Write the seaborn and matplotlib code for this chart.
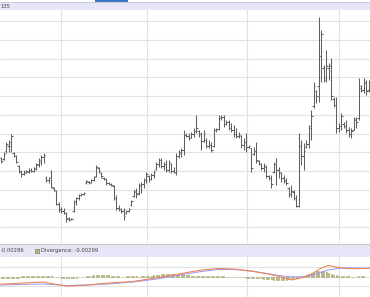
import numpy as np
import pandas as pd
import matplotlib
matplotlib.use("Agg")
import matplotlib.pyplot as plt
import seaborn as sns
from matplotlib.patches import Rectangle

sns.set_theme(style="white")
plt.rcParams['font.family'] = ['DejaVu Sans']

# ---- price bars (OHLC) ----
opens = [88, 87, 95, 100, 100, 93, 90, 80, 74, 72, 74, 74, 76, 75, 77, 81, 84, 89, 68, 66,
         74, 58, 55, 42, 37, 35, 33, 28, 27, 35, 44, 48, 51, 52, 63, 64, 64, 66, 70, 78,
         73, 68, 67, 63, 62, 60, 48, 38, 37, 35, 33, 35, 41, 50, 54, 53, 60, 62, 66, 70,
         67, 71, 77, 82, 86, 80, 82, 76, 82, 75, 73, 90, 93, 96, 111, 110, 108, 112, 115, 115,
         112, 105, 106, 100, 101, 100, 116, 117, 128, 129, 122, 124, 118, 116, 112, 110, 110, 101, 104, 99,
         98, 92, 95, 85, 82, 78, 79, 70, 68, 74, 82, 76, 73, 68, 65, 58, 52, 54, 48, 40,
         100, 90, 99, 102, 118, 140, 155, 160, 190, 178, 168, 178, 180, 147, 141, 118, 120, 122, 120, 116,
         112, 116, 126, 128, 158, 156, 163, 156]
highs = [89, 94, 104, 106, 112, 94, 91, 81, 76, 76, 76, 78, 78, 79, 83, 88, 91, 93, 70, 69,
         76, 59, 56, 44, 39, 38, 34, 29, 28, 46, 49, 52, 53, 54, 66, 65, 67, 70, 81, 79,
         74, 69, 68, 64, 63, 61, 51, 41, 38, 38, 36, 38, 46, 56, 58, 63, 64, 68, 74, 71,
         73, 76, 84, 88, 88, 84, 86, 86, 83, 79, 93, 96, 98, 116, 113, 113, 114, 118, 131, 116,
         114, 116, 108, 106, 104, 118, 118, 131, 131, 131, 126, 126, 123, 121, 118, 114, 111, 108, 113, 101,
         98, 99, 104, 86, 83, 83, 81, 71, 71, 84, 88, 79, 74, 71, 68, 59, 61, 56, 51, 113,
         106, 103, 106, 121, 136, 164, 156, 229, 216, 181, 196, 183, 188, 149, 149, 123, 133, 124, 126, 119,
         118, 129, 129, 168, 161, 168, 166, 166]
lows = [83, 86, 93, 94, 94, 89, 83, 73, 69, 71, 73, 73, 74, 74, 76, 79, 81, 83, 64, 63,
        58, 55, 41, 34, 33, 32, 24, 25, 26, 34, 41, 46, 50, 51, 62, 62, 63, 65, 69, 73,
        68, 66, 61, 61, 60, 46, 36, 35, 33, 26, 32, 34, 40, 49, 48, 51, 53, 58, 63, 64,
        66, 68, 76, 79, 78, 76, 74, 74, 73, 73, 71, 88, 89, 91, 109, 106, 108, 109, 113, 109,
        96, 104, 98, 98, 94, 99, 114, 116, 126, 119, 121, 116, 114, 109, 108, 108, 98, 96, 94, 98,
        74, 91, 83, 81, 76, 74, 68, 66, 58, 73, 61, 68, 64, 63, 61, 49, 49, 46, 39, 39,
        81, 76, 98, 98, 106, 138, 143, 144, 164, 164, 164, 166, 146, 139, 113, 114, 116, 118, 113, 109,
        108, 116, 118, 126, 154, 153, 151, 154]
closes = [85, 92, 102, 104, 110, 90, 84, 75, 72, 73, 75, 76, 75, 78, 82, 86, 89, 91, 66, 68,
          59, 56, 42, 36, 35, 33, 27, 26, 27, 45, 48, 51, 52, 53, 65, 63, 66, 69, 79, 75,
          70, 67, 63, 62, 61, 48, 38, 37, 35, 30, 35, 37, 45, 55, 52, 61, 62, 66, 72, 67,
          71, 74, 82, 86, 80, 82, 76, 84, 75, 74, 90, 94, 96, 111, 110, 108, 112, 115, 118, 112,
          105, 113, 100, 101, 96, 116, 117, 128, 129, 122, 124, 118, 116, 112, 110, 111, 101, 104, 99, 100,
          78, 95, 86, 83, 78, 80, 70, 68, 62, 82, 76, 74, 68, 66, 63, 52, 55, 48, 40, 100,
          90, 95, 102, 120, 130, 160, 150, 190, 212, 166, 180, 180, 150, 141, 118, 120, 130, 120, 116, 112,
          115, 127, 124, 160, 156, 164, 155, 160]

# ---- MACD panel ----
macd_x = [0, 20, 43, 67, 87, 110, 133, 157, 185, 200, 218, 235, 252, 268, 280, 292,
          302, 312, 320, 328, 342, 356, 370]
macd = [-7.5, -6.5, -5.3, -9.5, -8.3, -6.2, -4.8, -1.0, 3.8, 6.5, 8.2, 7.6, 5.5, 2.8, 0.0, -3.3,
        -1.0, 2.8, 8.0, 11.2, 8.6, 8.0, 8.4]
signal = [-8.3, -7.8, -7.3, -8.8, -8.3, -7.2, -5.3, -2.3, 2.6, 5.0, 7.2, 7.2, 5.5, 3.0, 1.0, -0.2,
          0.0, 1.5, 4.0, 6.7, 8.8, 8.6, 8.4]
hist = [-1.0, -1.0, -1.0, -1.2, -1.2, -1.0, -1.0, -0.8, 0.4, 0.5, 0.5, 0.6, 0.5, 0.5, 0.4, 0.5,
        0.6, 0.6, 0.5, 0.4, 0.3, 0.2, 0.0, -0.3, -0.8, -1.2, -1.5, -1.5, -1.3, -1.0, -0.8, -0.4,
        -0.2, 0.0, 0.3, 0.8, 1.2, 1.6, 1.8, 2.0, 2.0, 1.8, 1.6, 1.4, 1.1, 0.8, 0.5, 0.3, 0.2, 0.2,
        0.3, 0.3, 0.3, 0.3, 0.3, 0.2, 0.3, 0.4, 0.4, 0.5, 0.8, 1.3, 1.8, 2.2, 2.5, 2.8, 3.0, 3.0,
        3.2, 3.2, 3.0, 2.8, 2.6, 2.4, 2.0, 1.6, 1.2, 1.0, 0.8, 0.6, 0.5, 0.5, 0.4, 0.4, 0.4, 0.5,
        0.5, 0.4, 0.4, 0.3, 0.2, 0.2, 0.1, 0.0, -0.2, -0.4, -0.6, -0.7, -0.8, -0.8, -0.9, -1.0,
        -1.0, -1.2, -1.5, -1.8, -2.0, -2.2, -2.5, -2.8, -3.0, -3.0, -3.2, -3.0, -2.8, -2.5, -2.0,
        -1.5, -1.0, -0.5, 0.2, 1.0, 2.0, 3.0, 4.0, 5.0, 5.8, 6.2, 6.0, 5.5, 4.8, 4.0, 3.0, 2.2,
        1.5, 1.0, 0.6, 0.4, 0.3, 0.3, 0.2, 0.2, 0.2, 0.3, 0.3, 0.3]

header_label = "135"
macd_label = "-0.00286"
div_label = "Divergence: -0.00299"

month_lines = [23.9, 58.3, 98.3, 135.1]

df = pd.DataFrame({"o": opens, "h": highs, "l": lows, "c": closes})
df["i"] = np.arange(len(df))
mdf = pd.DataFrame({"x": macd_x, "macd": macd, "signal": signal})
hdf = pd.DataFrame({"i": np.arange(len(hist)), "hist": hist})

W, H = 370, 297
fig = plt.figure(figsize=(W / 100, H / 100), dpi=100)
fig.patch.set_facecolor("white")

def fy(ypx):
    return 1 - ypx / H

grid_c = "#e2e2e2"
bar_c = "#606060"
lav = "#e6e6f8"

# main panel
ax = fig.add_axes([0, fy(243), 1, fy(9) - fy(243)])
ax.set_xlim(-0.5, 147.5)
ax.set_ylim(3, 237)
for v in month_lines:
    ax.axvline(v, color=grid_c, lw=0.8, zorder=0)
for g in np.arange(18.73, 230, 18.73):
    ax.axhline(g, color=grid_c, lw=0.8, zorder=0)
ax.vlines(df["i"], df["l"], df["h"], color=bar_c, lw=0.75)
ax.hlines(df["o"], df["i"] - 0.55, df["i"], color=bar_c, lw=0.75)
ax.hlines(df["c"], df["i"], df["i"] + 0.55, color=bar_c, lw=0.75)
ax.set_xticks([]); ax.set_yticks([])
for s in ax.spines.values():
    s.set_visible(False)

# macd panel
ax2 = fig.add_axes([0, 0, 1, fy(257)])
ax2.set_xlim(0, 370)
ax2.set_ylim(-20.3, 19.7)
for v in month_lines:
    ax2.axvline(1.25 + 2.5 * v, color=grid_c, lw=0.8, zorder=0)
for g in [-9.3, 0, 10]:
    ax2.axhline(g, color=grid_c, lw=0.8, zorder=0)
hx = 1.25 + 2.5 * hdf["i"]
ax2.bar(hx, hdf["hist"], width=1.2, bottom=0, color="#b9b985", edgecolor="#a8a870", lw=0.5, zorder=1)
sns.lineplot(data=mdf, x="x", y="signal", ax=ax2, color="#9c9cf0", lw=0.75, zorder=2)
sns.lineplot(data=mdf, x="x", y="macd", ax=ax2, color="#f08050", lw=0.75, zorder=3)
ax2.set_xticks([]); ax2.set_yticks([])
ax2.set_xlabel(""); ax2.set_ylabel("")
for s in ax2.spines.values():
    s.set_visible(False)

# headers / decorations
fig.add_artist(Rectangle((0, fy(9.5)), 1, fy(2.5) - fy(9.5), transform=fig.transFigure,
                         facecolor=lav, edgecolor="none"))
fig.add_artist(plt.Line2D([0, 1], [fy(2.2), fy(2.2)], transform=fig.transFigure, color="#c8c8d0", lw=0.6))
fig.add_artist(Rectangle((95 / W, fy(1.8)), 33 / W, 1.8 / H, transform=fig.transFigure,
                         facecolor="#3b78c2", edgecolor="none"))
fig.text(0.5 / W, fy(6), header_label, fontsize=3.8, color="#444444", va="center", ha="left")

fig.add_artist(plt.Line2D([0, 1], [fy(244.3), fy(244.3)], transform=fig.transFigure, color="#c8c8c8", lw=0.8))
fig.add_artist(Rectangle((0, fy(256.5)), 1, fy(245) - fy(256.5), transform=fig.transFigure,
                         facecolor=lav, edgecolor="none"))
fig.text(0.5 / W, fy(250.5), macd_label, fontsize=3.8, color="#444444", va="center", ha="left")
fig.add_artist(Rectangle((35 / W, fy(252.5)), 4 / W, 4 / H, transform=fig.transFigure,
                         facecolor="#b4b47c", edgecolor="#707040", lw=0.4))
fig.text(41 / W, fy(250.5), div_label, fontsize=3.8, color="#444444", va="center", ha="left")

fig.savefig("out.png", dpi=100)
